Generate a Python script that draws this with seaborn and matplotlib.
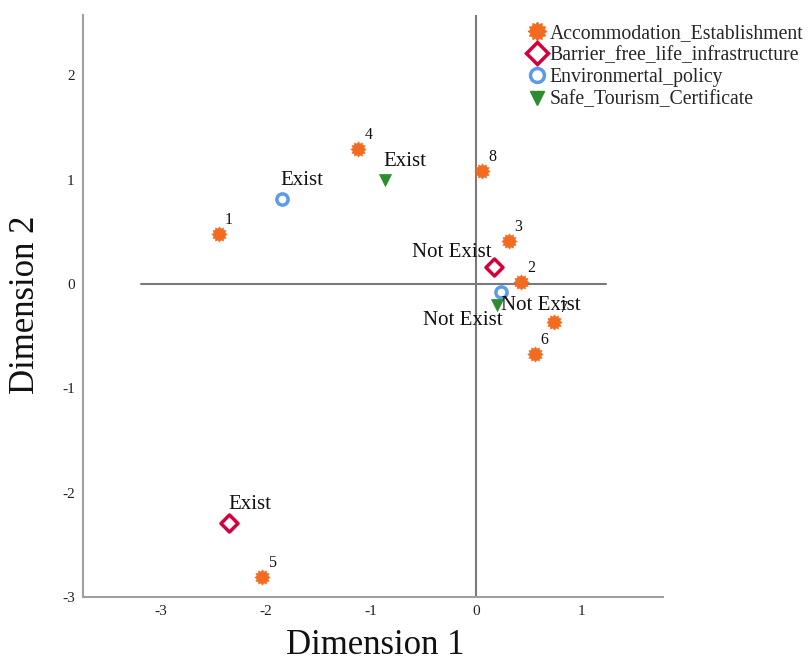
import numpy as np
import pandas as pd
import matplotlib
matplotlib.use("Agg")
import matplotlib.pyplot as plt
from matplotlib.lines import Line2D
from matplotlib.path import Path
import seaborn as sns

# ---- data ----
acc_labels = ["1", "2", "3", "4", "5", "6", "7", "8"]
acc_x = [-2.45, 0.43, 0.31, -1.12, -2.04, 0.56, 0.74, 0.06]
acc_y = [0.48, 0.02, 0.41, 1.30, -2.81, -0.67, -0.36, 1.08]

cat_labels = ["Exist", "Not Exist"]
barrier_x = [-2.35, 0.17]
barrier_y = [-2.29, 0.16]
env_x = [-1.85, 0.24]
env_y = [0.82, -0.08]
safe_x = [-0.87, 0.20]
safe_y = [1.00, -0.20]

series_names = ["Accommodation_Establishment", "Barrier_free_life_infrastructure",
                "Environmertal_policy", "Safe_Tourism_Certificate"]

x_ticks = [-3, -2, -1, 0, 1]
y_ticks = [-3, -2, -1, 0, 1, 2]

# ---- style ----
sns.set_theme(style="white")
plt.rcParams["font.family"] = ["Liberation Serif", "DejaVu Serif"]

c_acc = "#F26B21"
c_bar = "#D4003C"
c_env = "#5B9BEA"
c_safe = "#2E8B2E"
sun = Path.unit_regular_star(12, 0.72)

fig = plt.figure(figsize=(8.1, 6.64), dpi=100)
ax = fig.add_axes([83 / 810, 67 / 664, 580 / 810, 582 / 664])

ax.set_xlim(-3.74, 1.78)
ax.set_ylim(-3.0, 2.58)

# reference lines
ax.axvline(0, color="#7a7a7a", lw=1.5, zorder=1)
ax.plot([-3.19, 1.24], [0, 0], color="#7a7a7a", lw=1.5, zorder=1)

df_acc = pd.DataFrame({"x": acc_x, "y": acc_y, "lab": acc_labels})
sns.scatterplot(data=df_acc, x="x", y="y", ax=ax, marker=sun, s=120,
                color=c_acc, edgecolor=c_acc, linewidth=0.5, legend=False, zorder=3)

df_bar = pd.DataFrame({"x": barrier_x, "y": barrier_y})
sns.scatterplot(data=df_bar, x="x", y="y", ax=ax, marker="D", s=75,
                facecolor="white", edgecolor=c_bar, linewidth=2.5, legend=False, zorder=3)

df_env = pd.DataFrame({"x": env_x, "y": env_y})
sns.scatterplot(data=df_env, x="x", y="y", ax=ax, marker="o", s=65,
                facecolor="white", edgecolor=c_env, linewidth=2.5, legend=False, zorder=3)

df_safe = pd.DataFrame({"x": safe_x, "y": safe_y})
sns.scatterplot(data=df_safe, x="x", y="y", ax=ax, marker="v", s=75,
                color=c_safe, edgecolor=c_safe, linewidth=0.5, legend=False, zorder=3)

# point labels
for xv, yv, t in zip(acc_x, acc_y, acc_labels):
    ax.annotate(t, (xv, yv), xytext=(6, 6), textcoords="offset pixels",
                fontsize=11.5, color="#111111", ha="left", va="bottom")

lab_fs = 15
# Exist labels: left-aligned, above
for xs, ys in [(barrier_x, barrier_y), (env_x, env_y), (safe_x, safe_y)]:
    ax.annotate(cat_labels[0], (xs[0], ys[0]), xytext=(-1, 9), textcoords="offset pixels",
                fontsize=lab_fs, color="#111111", ha="left", va="bottom")
# Not Exist labels
ax.annotate(cat_labels[1], (barrier_x[1], barrier_y[1]), xytext=(-2, 5), textcoords="offset pixels",
            fontsize=lab_fs, color="#111111", ha="right", va="bottom")
ax.annotate(cat_labels[1], (env_x[1], env_y[1]), xytext=(0, -4), textcoords="offset pixels",
            fontsize=lab_fs, color="#111111", ha="left", va="top")
ax.annotate(cat_labels[1], (safe_x[1], safe_y[1]), xytext=(6, -6), textcoords="offset pixels",
            fontsize=lab_fs, color="#111111", ha="right", va="top")

# axes styling
ax.set_xticks(x_ticks)
ax.set_yticks(y_ticks)
ax.set_xticklabels([str(v) for v in x_ticks], fontsize=11, color="#222222")
ax.set_yticklabels([str(v) for v in y_ticks], fontsize=11, color="#222222")
ax.tick_params(axis="x", length=0, pad=6)
ax.tick_params(axis="y", length=0, pad=6)
for s in ["top", "right"]:
    ax.spines[s].set_visible(False)
for s in ["left", "bottom"]:
    ax.spines[s].set_color("#a0a0a0")
    ax.spines[s].set_linewidth(1.5)

ax.set_xlabel("Dimension 1", fontsize=25, color="#111111", va="center")
ax.set_ylabel("Dimension 2", fontsize=25, color="#111111", va="center")
ax.xaxis.set_label_coords((375 - 83) / 580, (597 - 645) / 582)
ax.yaxis.set_label_coords((25 - 83) / 580, (597 - 305) / 582)

handles = [
    Line2D([], [], ls="none", marker=sun, markersize=13, color=c_acc, mec=c_acc),
    Line2D([], [], ls="none", marker="D", markersize=11, mfc="white", mec=c_bar, mew=2.5),
    Line2D([], [], ls="none", marker="o", markersize=10, mfc="white", mec=c_env, mew=2.5),
    Line2D([], [], ls="none", marker="v", markersize=10, color=c_safe, mec=c_safe),
]
fig.legend(handles, series_names, loc="upper left", bbox_to_anchor=(527 / 810, 1 - 24 / 664),
           frameon=False, fontsize=14.2, handletextpad=0.15, labelspacing=0.16,
           handlelength=1.0, borderpad=0, borderaxespad=0)

fig.savefig("out.png", dpi=100)
